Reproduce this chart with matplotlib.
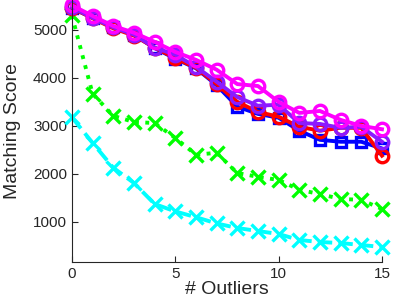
import numpy as np
import matplotlib
matplotlib.use("Agg")
import matplotlib.pyplot as plt

plt.rcParams['font.family'] = ['Liberation Sans', 'DejaVu Sans']

outliers = list(range(16))

# scores
score_blue = [5450, 5250, 5050, 4900, 4620, 4400, 4200, 3850, 3400, 3250, 3170, 2900, 2710, 2670, 2670, 2530]
score_red = [5460, 5240, 5030, 4880, 4630, 4410, 4210, 3870, 3500, 3290, 3190, 2980, 2900, 2960, 2960, 2380]
score_purple = [5470, 5250, 5050, 4900, 4630, 4480, 4230, 3920, 3600, 3420, 3440, 3060, 3040, 2960, 2980, 2670]
score_magenta = [5510, 5290, 5080, 4940, 4750, 4540, 4375, 4170, 3870, 3830, 3500, 3270, 3310, 3125, 3000, 2930]
score_green = [5300, 3670, 3210, 3080, 3060, 2750, 2400, 2440, 2020, 1940, 1875, 1670, 1580, 1480, 1460, 1270]
score_cyan = [3180, 2646, 2130, 1812, 1375, 1220, 1100, 970, 875, 812, 750, 625, 583, 562, 521, 479]

fig = plt.figure(figsize=(3.95, 3.01), dpi=100)
ax = fig.add_axes([0.182, 0.13, 0.785, 0.87])

lw = 2.8
kw = dict(linewidth=lw, markerfacecolor='none', markeredgewidth=2.4, clip_on=False)
ax.plot(outliers, score_green, ':', color=(0, 1, 0), marker='x', markersize=10, **kw)
ax.plot(outliers, score_cyan, '--', color=(0, 1, 1), marker='x', markersize=10, **kw)
ax.plot(outliers, score_blue, '-', color=(0, 0, 1), marker='s', markersize=7, **kw)
ax.plot(outliers, score_red, '-', color=(1, 0, 0), marker='o', markersize=9, **kw)
ax.plot(outliers, score_purple, '-', color=(0.55, 0.1, 1), marker='o', markersize=9, **kw)
ax.plot(outliers, score_magenta, '-', color=(1, 0, 1), marker='o', markersize=9, **kw)

ax.set_xlim(0, 15)
ax.set_ylim(170, 5620)
ax.set_xticks([0, 5, 10, 15])
ax.set_yticks([1000, 2000, 3000, 4000, 5000])
ax.tick_params(direction='in', length=4, labelsize=11, colors='0.15', width=0.8)
for s in ['top', 'right']:
    ax.spines[s].set_visible(False)
for s in ['left', 'bottom']:
    ax.spines[s].set_color('0.15')
    ax.spines[s].set_linewidth(0.8)

ax.set_xlabel('# Outliers', fontsize=14, color='0.15', labelpad=0)
ax.set_ylabel('Matching Score', fontsize=14, color='0.15', labelpad=9)

fig.savefig('out.png', dpi=100)
